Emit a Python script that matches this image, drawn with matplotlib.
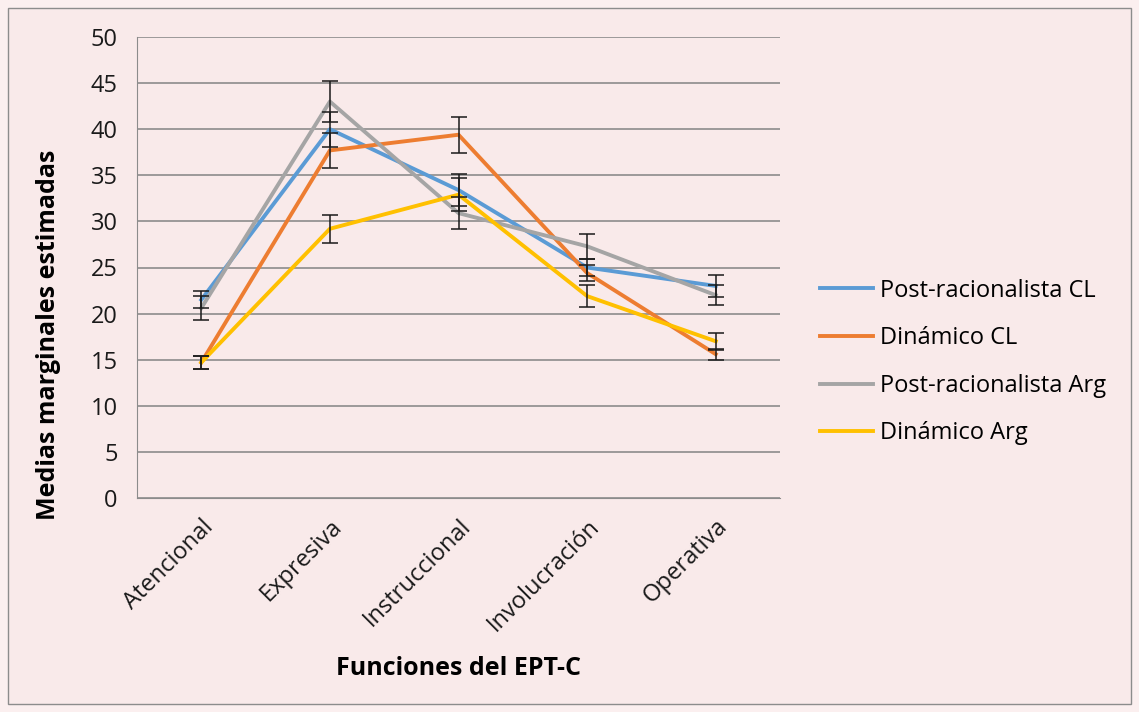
import matplotlib
matplotlib.use('Agg')
import matplotlib.pyplot as plt
import numpy as np

plt.rcParams['font.family'] = ['Open Sans', 'DejaVu Sans']

categories = ['Atencional', 'Expresiva', 'Instruccional', 'Involucración', 'Operativa']
series_names = ['Post-racionalista CL', 'Dinámico CL', 'Post-racionalista Arg', 'Dinámico Arg']
post_cl = [21.5, 40.0, 33.4, 25.0, 23.0]
din_cl = [14.7, 37.7, 39.4, 24.4, 15.6]
post_arg = [20.6, 43.0, 30.9, 27.3, 22.0]
din_arg = [14.7, 29.2, 32.9, 21.9, 17.0]
err_post_cl = [0.9, 1.9, 1.7, 0.9, 1.2]
err_din_cl = [0.7, 1.9, 1.95, 0.9, 0.6]
err_post_arg = [1.3, 2.2, 1.7, 1.35, 1.1]
err_din_arg = [0.7, 1.5, 1.8, 1.2, 0.9]
colors = ['#5B9BD5', '#ED7D31', '#A5A5A5', '#FFC000']

bg = '#F9EAEA'
fig = plt.figure(figsize=(11.39, 7.12), dpi=100, facecolor='#FBEFEF')
# chart frame
fig.patches.append(plt.Rectangle((8 / 1139, 8 / 712), 1 - 16 / 1139, 1 - 16 / 712,
                                 transform=fig.transFigure, facecolor=bg,
                                 edgecolor='#8c8c8c', linewidth=1, zorder=-1))
ax = fig.add_axes([137 / 1139, 1 - 498 / 712, (780 - 137) / 1139, (498 - 37) / 712])
ax.set_facecolor(bg)

x = np.arange(len(categories))
data = [post_cl, din_cl, post_arg, din_arg]
errs = [err_post_cl, err_din_cl, err_post_arg, err_din_arg]
for vals, err, c, name in zip(data, errs, colors, series_names):
    ax.plot(x, vals, color=c, linewidth=2.8, label=name, zorder=3)
    ax.errorbar(x, vals, yerr=err, fmt='none', ecolor='#1a1a1a', elinewidth=1.1,
                capsize=5.5, capthick=1.1, zorder=4)

ax.set_xlim(-0.5, len(categories) - 0.5)
ax.set_ylim(0, 50)
ax.set_yticks(range(0, 51, 5))
ax.yaxis.grid(True, color='#8c8c8c', linewidth=1.2)
ax.set_axisbelow(True)
for s in ['top', 'right']:
    ax.spines[s].set_visible(False)
ax.spines['left'].set_color('#8c8c8c')
ax.spines['bottom'].set_color('#8c8c8c')
ax.tick_params(axis='both', length=0, labelsize=17, colors='#1a1a1a')
ax.tick_params(axis='y', pad=14)
ax.tick_params(axis='x', pad=12)
ax.set_xticks(x)
ax.set_xticklabels(categories, rotation=45, ha='right', rotation_mode='anchor')

ax.set_ylabel('Medias marginales estimadas', fontsize=18, fontweight='bold')
ax.yaxis.set_label_coords(-0.118, 0.354)
ax.set_xlabel('Funciones del EPT-C', fontsize=18, fontweight='bold')
ax.xaxis.set_label_coords(0.5, -0.342)

ax.legend(loc='center left', bbox_to_anchor=(1.062, 0.295), frameon=False, fontsize=17,
          borderaxespad=0, borderpad=0,
          handlelength=2.25, handletextpad=0.3, labelspacing=1.0)

fig.savefig('out.png', dpi=100, facecolor=fig.get_facecolor())
